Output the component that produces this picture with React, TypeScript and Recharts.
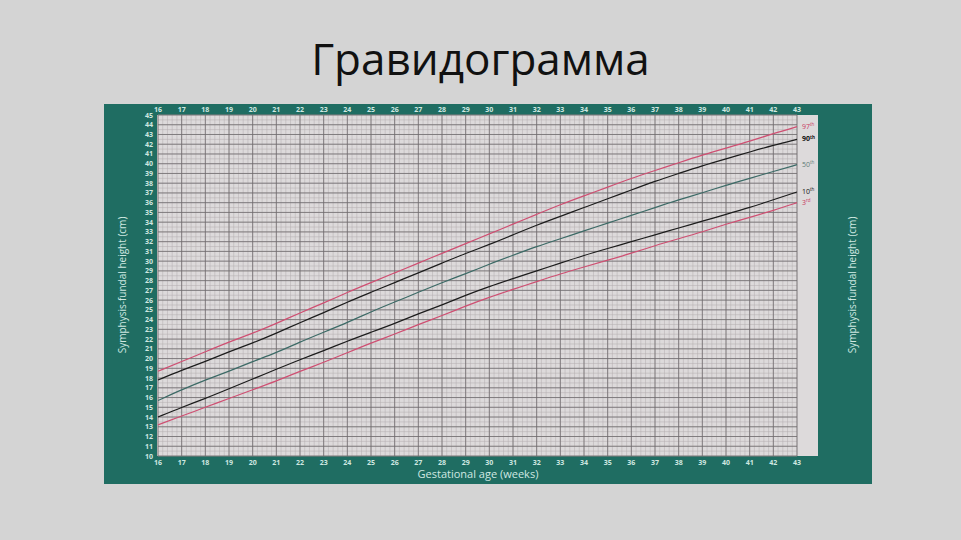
import { LineChart, Line, XAxis, YAxis, CartesianGrid } from 'recharts';

// gestational weeks and percentile curves (cm)
const weeks = [16, 17, 18, 19, 20, 21, 22, 23, 24, 25, 26, 27, 28, 29, 30, 31, 32, 33, 34, 35, 36, 37, 38, 39, 40, 41, 42, 43];
const p97 = [18.7, 19.7, 20.7, 21.7, 22.6, 23.6, 24.7, 25.7, 26.8, 27.8, 28.8, 29.8, 30.8, 31.8, 32.8, 33.8, 34.8, 35.8, 36.7, 37.6, 38.5, 39.3, 40.1, 40.9, 41.6, 42.3, 43.1, 43.8];
const p90 = [17.8, 18.8, 19.7, 20.7, 21.6, 22.6, 23.7, 24.7, 25.8, 26.8, 27.8, 28.8, 29.8, 30.8, 31.7, 32.7, 33.7, 34.6, 35.5, 36.4, 37.3, 38.2, 39.0, 39.8, 40.5, 41.2, 41.9, 42.5];
const p50 = [15.7, 16.8, 17.8, 18.7, 19.7, 20.6, 21.7, 22.7, 23.7, 24.8, 25.8, 26.8, 27.8, 28.7, 29.7, 30.6, 31.5, 32.3, 33.1, 33.9, 34.7, 35.5, 36.3, 37.0, 37.8, 38.5, 39.2, 39.9];
const p10 = [14.0, 15.0, 15.9, 16.9, 17.9, 18.9, 19.9, 20.8, 21.8, 22.7, 23.6, 24.6, 25.5, 26.5, 27.4, 28.2, 29.0, 29.8, 30.6, 31.3, 32.0, 32.7, 33.4, 34.1, 34.8, 35.5, 36.3, 37.1];
const p3 = [13.2, 14.1, 15.0, 15.9, 16.8, 17.7, 18.7, 19.6, 20.6, 21.6, 22.5, 23.5, 24.4, 25.4, 26.3, 27.1, 27.9, 28.7, 29.4, 30.1, 30.8, 31.6, 32.3, 33.0, 33.8, 34.5, 35.2, 36.0];

const heightTicks = [10, 11, 12, 13, 14, 15, 16, 17, 18, 19, 20, 21, 22, 23, 24, 25, 26, 27, 28, 29, 30, 31, 32, 33, 34, 35, 36, 37, 38, 39, 40, 41, 42, 43, 44, 45];

const WEEK_DOMAIN = [16, 43];
const HEIGHT_DOMAIN = [10, 45];

// fine grid lines
const minorWeekTicks = Array.from({ length: 27 * 5 + 1 }, (_, i) => 16 + i * 0.2);
const minorHeightTicks = Array.from({ length: 35 * 2 + 1 }, (_, i) => 10 + i * 0.5);

const data = weeks.map((w, i) => ({
  week: w,
  p97: p97[i],
  p90: p90[i],
  p50: p50[i],
  p10: p10[i],
  p3: p3[i],
}));

const TICK_COLOR = '#cfe8e1';
const FONT = '"Open Sans", "DejaVu Sans", sans-serif';

const scaleFn = (axis: any) => {
  const s = axis?.scale;
  if (typeof s === 'function') return s;
  if (s && typeof s.map === 'function') return (v: number) => s.map(v);
  return null;
};

const minorVertical = ({ xAxis, offset }: any) => {
  const s = scaleFn(xAxis);
  if (s) return minorWeekTicks.map((t) => s(t));
  return minorWeekTicks.map((t) => offset.left + ((t - WEEK_DOMAIN[0]) / (WEEK_DOMAIN[1] - WEEK_DOMAIN[0])) * offset.width);
};
const minorHorizontal = ({ yAxis, offset }: any) => {
  const s = scaleFn(yAxis);
  if (s) return minorHeightTicks.map((t) => s(t));
  return minorHeightTicks.map((t) => offset.top + ((HEIGHT_DOMAIN[1] - t) / (HEIGHT_DOMAIN[1] - HEIGHT_DOMAIN[0])) * offset.height);
};

const TopTick = ({ x, y, payload }: any) => (
  <text x={x} y={y - 3} textAnchor="middle" fontSize={7} fontWeight="bold" fill={TICK_COLOR} fontFamily={FONT}>
    {payload.value}
  </text>
);
const BottomTick = ({ x, y, payload }: any) => (
  <text x={x} y={y + 9} textAnchor="middle" fontSize={7} fontWeight="bold" fill={TICK_COLOR} fontFamily={FONT}>
    {payload.value}
  </text>
);
const LeftTick = ({ x, y, payload }: any) => (
  <text x={x - 9} y={y + 2.5} textAnchor="middle" fontSize={7} fontWeight="bold" fill={TICK_COLOR} fontFamily={FONT}>
    {payload.value}
  </text>
);
const RightTick = ({ x, y, payload }: any) => (
  <text x={x + 29} y={y + 2.5} textAnchor="middle" fontSize={7} fontWeight="bold" fill={TICK_COLOR} fontFamily={FONT}>
    {payload.value}
  </text>
);

const endLabel = (num: string, suffix: string, color: string, bold = false) => (props: any) => {
  if (props.index !== weeks.length - 1) return null;
  return (
    <text x={props.x + 5} y={props.y + 2} fontSize={7} fill={color} fontWeight={bold ? 'bold' : 'normal'} fontFamily={FONT}>
      {num}
      <tspan fontSize={4.5} dy={-2.5}>{suffix}</tspan>
    </text>
  );
};

export default function App() {
  return (
    <div style={{ position: 'absolute', left: 0, top: 0, width: 961, height: 540, background: '#d4d4d4', overflow: 'hidden', fontFamily: FONT }}>
      <div style={{ position: 'absolute', left: 0, top: 28, width: 961, textAlign: 'center', fontSize: 44, color: '#111', lineHeight: '60px' }}>
        Гравидограмма
      </div>
      <div style={{ position: 'absolute', left: 104, top: 104, width: 768, height: 380, background: '#1f6d62' }} />
      <div style={{ position: 'absolute', left: 157, top: 115, width: 661, height: 341, background: '#dddadb' }} />
      <div style={{ position: 'absolute', left: 0, top: 0 }}>
        <LineChart width={961} height={540} data={data} margin={{ top: 105, right: 124, bottom: 64, left: 138 }}>
          <XAxis xAxisId="top" orientation="top" dataKey="week" type="number" domain={WEEK_DOMAIN} ticks={weeks} height={10} tickSize={0} tickMargin={0} axisLine={false} tickLine={false} tick={<TopTick />} interval={0} />
          <XAxis xAxisId="bottom" dataKey="week" type="number" domain={WEEK_DOMAIN} ticks={weeks} height={20} tickSize={0} tickMargin={0} axisLine={false} tickLine={false} tick={<BottomTick />} interval={0} />
          <YAxis yAxisId="left" type="number" domain={HEIGHT_DOMAIN} ticks={heightTicks} width={20} tickSize={0} tickMargin={0} axisLine={false} tickLine={false} tick={<LeftTick />} interval={0} />
          <YAxis yAxisId="right" orientation="right" type="number" domain={HEIGHT_DOMAIN} ticks={heightTicks} width={40} tickSize={0} tickMargin={0} axisLine={false} tickLine={false} tick={<RightTick />} interval={0} />
          <CartesianGrid
            xAxisId="bottom"
            yAxisId="left"
            stroke="#b3adaf"
            strokeWidth={0.5}
            verticalCoordinatesGenerator={minorVertical}
            horizontalCoordinatesGenerator={minorHorizontal}
          />
          <CartesianGrid xAxisId="bottom" yAxisId="left" stroke="#6f6b6d" strokeWidth={0.8} />
          <Line xAxisId="bottom" yAxisId="left" type="basis" dataKey="p97" stroke="#cf4f72" strokeWidth={1.2} dot={false} isAnimationActive={false} label={endLabel('97', 'th', '#c8385e')} />
          <Line xAxisId="bottom" yAxisId="left" type="basis" dataKey="p90" stroke="#1c1c1c" strokeWidth={1.2} dot={false} isAnimationActive={false} label={endLabel('90', 'th', '#111', true)} />
          <Line xAxisId="bottom" yAxisId="left" type="basis" dataKey="p50" stroke="#3c6a66" strokeWidth={1.2} dot={false} isAnimationActive={false} label={endLabel('50', 'th', '#5f7a76')} />
          <Line xAxisId="bottom" yAxisId="left" type="basis" dataKey="p10" stroke="#1c1c1c" strokeWidth={1.2} dot={false} isAnimationActive={false} label={endLabel('10', 'th', '#111')} />
          <Line xAxisId="bottom" yAxisId="left" type="basis" dataKey="p3" stroke="#cf4f72" strokeWidth={1.2} dot={false} isAnimationActive={false} label={endLabel('3', 'rd', '#c8385e')} />
        </LineChart>
      </div>
      <div style={{ position: 'absolute', left: 104, top: 466, width: 748, textAlign: 'center', fontSize: 11, color: TICK_COLOR, lineHeight: '16px' }}>
        Gestational age (weeks)
      </div>
      <div style={{ position: 'absolute', left: 122, top: 285, transform: 'translate(-50%, -50%) rotate(-90deg)', fontSize: 10, color: TICK_COLOR, whiteSpace: 'nowrap' }}>
        Symphysis-fundal height (cm)
      </div>
      <div style={{ position: 'absolute', left: 852, top: 285, transform: 'translate(-50%, -50%) rotate(-90deg)', fontSize: 10, color: TICK_COLOR, whiteSpace: 'nowrap' }}>
        Symphysis-fundal height (cm)
      </div>
    </div>
  );
}
